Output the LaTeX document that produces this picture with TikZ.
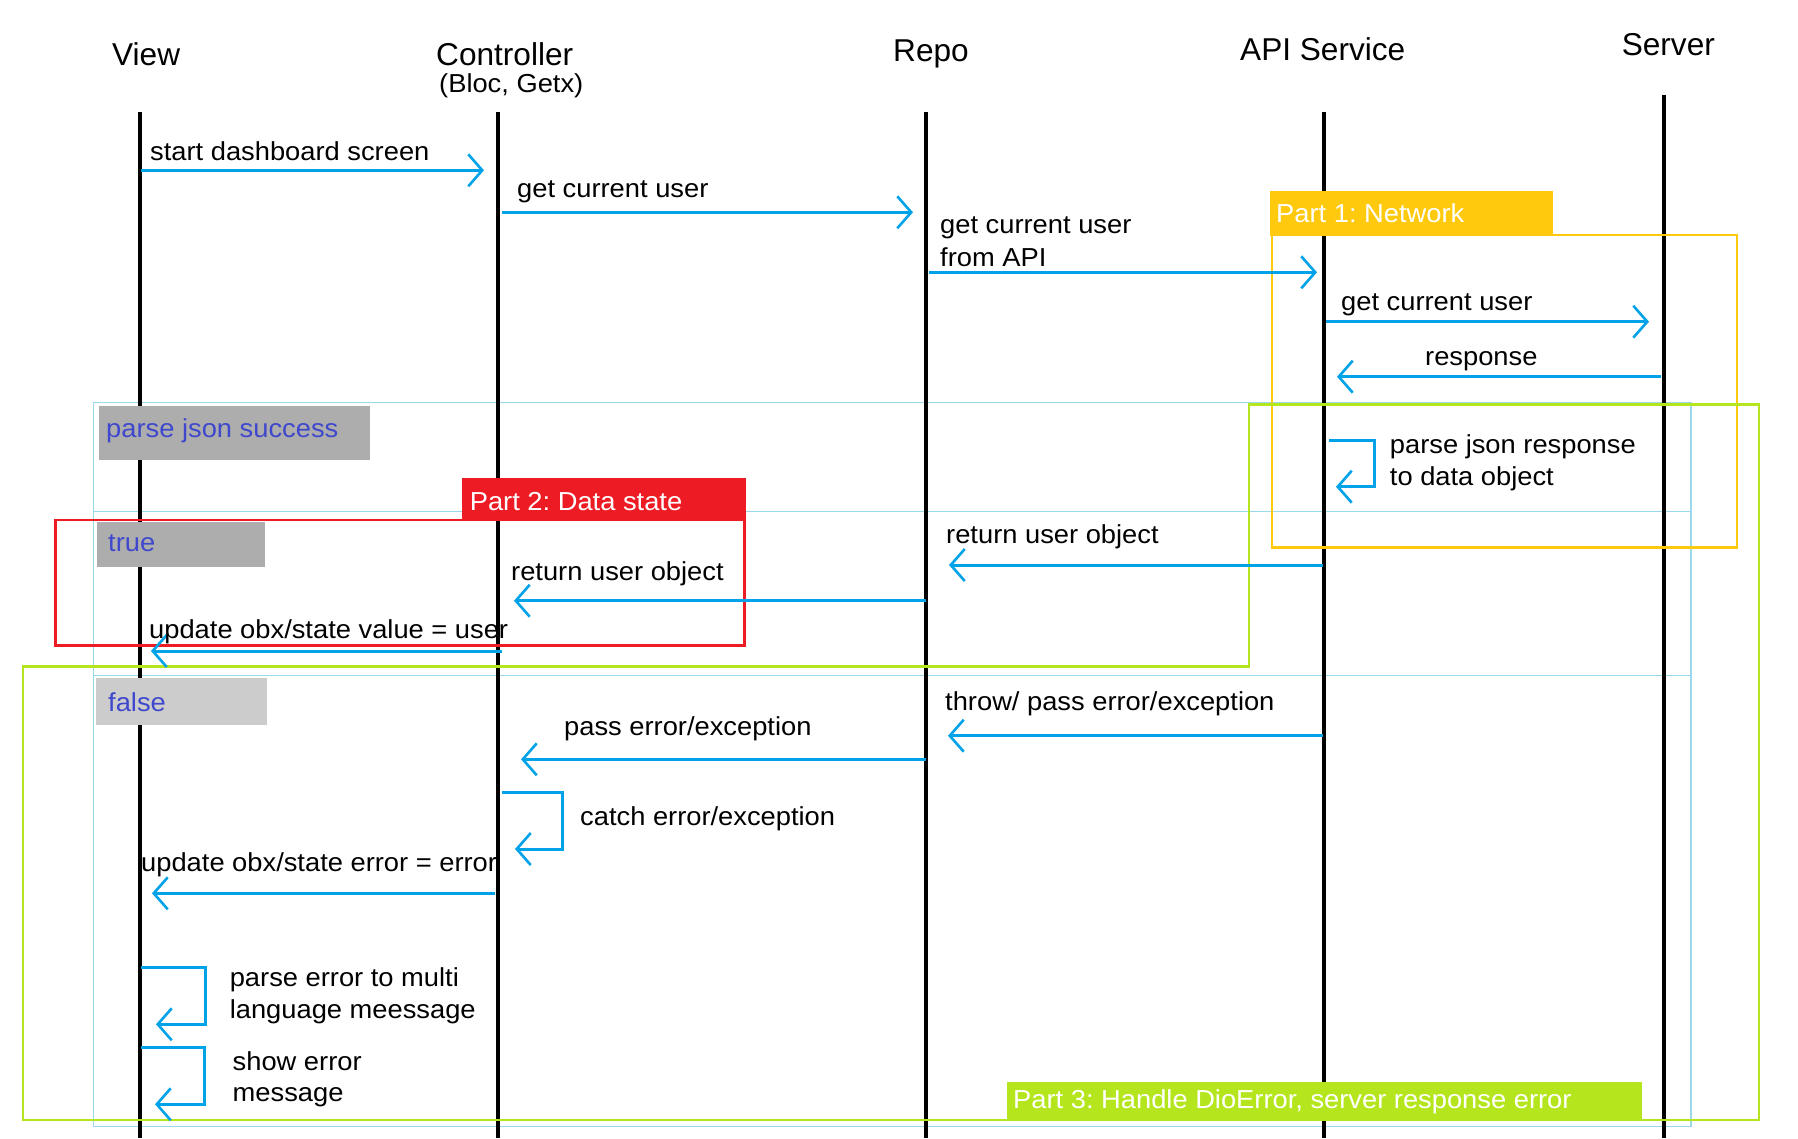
\documentclass[tikz,border=0pt]{standalone}
\usepackage{fontspec}
\setmainfont{Liberation Sans}
\newfontfamily\bodyfont{Liberation Sans}[FakeStretch=1.05]
\usetikzlibrary{arrows.meta}
\frenchspacing
\definecolor{msgblue}{HTML}{00A2E8}
\definecolor{fragblue}{HTML}{99D9EA}
\definecolor{condblue}{HTML}{3F48CC}
\definecolor{netyellow}{HTML}{FFC90E}
\definecolor{datared}{HTML}{ED1C24}
\definecolor{errgreen}{HTML}{B5E61D}
\definecolor{graydark}{HTML}{ADADAD}
\definecolor{graylight}{HTML}{CCCCCC}
\begin{document}
\begin{tikzpicture}[x=1pt,y=-1pt,
  head/.style={anchor=base west,inner sep=0pt,font=\fontsize{31.6}{38}\selectfont},
  txt/.style={anchor=base west,inner sep=0pt,font=\bodyfont\fontsize{26}{32}\selectfont},
  lbl/.style={txt,text=white},
  cond/.style={txt,text=condblue},
  lifeline/.style={line width=4.2pt,black},
  frag/.style={line width=1.2pt,fragblue},
  framebox/.style={line width=2.5pt},
  msg/.style={line width=3pt,msgblue,-{Straight Barb[length=14pt,width=32pt,line width=2.6pt]}}]
\useasboundingbox (0,0) rectangle (1798,1138);
\fill[white] (0,0) rectangle (1798,1138);

% combined fragment (light blue)
\draw[frag] (93.6,402.7) rectangle (1691,1126.7);
\draw[frag] (93.6,511.7) -- (1691,511.7);
\draw[frag] (93.6,675.7) -- (1691,675.7);

% lifelines
\coordinate (vT) at (140,112); \coordinate (vB) at (140,1138);
\coordinate (cT) at (498,112); \coordinate (cB) at (498,1138);
\coordinate (rT) at (926,112); \coordinate (rB) at (926,1138);
\coordinate (aT) at (1324,112); \coordinate (aB) at (1324,1138);
\coordinate (sT) at (1664,95); \coordinate (sB) at (1664,1138);
\draw[lifeline] (vT) -- (vB);
\draw[lifeline] (cT) -- (cB);
\draw[lifeline] (rT) -- (rB);
\draw[lifeline] (aT) -- (aB);
\draw[lifeline] (sT) -- (sB);

% frames
\draw[framebox,netyellow] (1272,235) rectangle (1737,547.3);
\draw[framebox,datared] (55.7,520) rectangle (744.5,645.7);
\draw[framebox,errgreen] (23,666.7) -- (1249,666.7) -- (1249,404.3) -- (1758.8,404.3) -- (1758.8,1120) -- (23,1120) -- cycle;

% labels and condition boxes
\fill[netyellow] (1270,191) rectangle (1553,236);
\fill[datared] (462,478) rectangle (746,521);
\fill[errgreen] (1007,1082) rectangle (1641.7,1120);
\fill[graydark] (98.7,406) rectangle (370,460);
\fill[graydark] (97,521.7) rectangle (265,566.7);
\fill[graylight] (96,678) rectangle (267,725);

% headers
\node[head] (hView) at (112,65) {View};
\node[head] (hCtrl) at (436,65) {Controller};
\node[txt] (hCtrlSub) at (439,92.5) {(Bloc, Getx)};
\node[head] (hRepo) at (893,61.7) {Repo};
\node[head] (hApi) at (1240,60) {API Service};
\node[head] (hSrv) at (1621.6,55) {Server};

% label texts
\node[lbl] (p1) at (1276,222) {Part 1: Network};
\node[lbl] (p2) at (469.6,510) {Part 2: Data state};
\node[lbl] (p3) at (1013,1108) {Part 3: Handle DioError, server response error};
\node[cond] (c1) at (106,437) {parse json success};
\node[cond] (c2) at (108,551.7) {true};
\node[cond] (c3) at (108,711.7) {false};

% messages
\coordinate (m1a) at (141,170.3); \coordinate (m1b) at (484,170.3);
\draw[msg] (m1a) -- (m1b);
\coordinate (m2a) at (502,212.3); \coordinate (m2b) at (913,212.3);
\draw[msg] (m2a) -- (m2b);
\coordinate (m3a) at (929,272.3); \coordinate (m3b) at (1317,272.3);
\draw[msg] (m3a) -- (m3b);
\coordinate (m4a) at (1326,321.7); \coordinate (m4b) at (1649,321.7);
\draw[msg] (m4a) -- (m4b);
\coordinate (m5a) at (1661,376.7); \coordinate (m5b) at (1337,376.7);
\draw[msg] (m5a) -- (m5b);
\coordinate (m6a) at (1329,440.7); \coordinate (m6b) at (1336,486.7);
\draw[msg] (m6a) -- (1374.7,440.7) |- (m6b);
\coordinate (m7a) at (1323,565); \coordinate (m7b) at (949,565);
\draw[msg] (m7a) -- (m7b);
\coordinate (m8a) at (926,600.7); \coordinate (m8b) at (514,600.7);
\draw[msg] (m8a) -- (m8b);
\coordinate (m9a) at (502,651); \coordinate (m9b) at (151,651);
\draw[msg] (m9a) -- (m9b);
\coordinate (m10a) at (1323,735.7); \coordinate (m10b) at (948,735.7);
\draw[msg] (m10a) -- (m10b);
\coordinate (m11a) at (926,759.3); \coordinate (m11b) at (521,759.3);
\draw[msg] (m11a) -- (m11b);
\coordinate (m12a) at (502,792.3); \coordinate (m12b) at (515,849);
\draw[msg] (m12a) -- (562.6,792.3) |- (m12b);
\coordinate (m13a) at (495,893.3); \coordinate (m13b) at (152,893.3);
\draw[msg] (m13a) -- (m13b);
\coordinate (m14a) at (141,967.7); \coordinate (m14b) at (156,1024.3);
\draw[msg] (m14a) -- (205,967.7) |- (m14b);
\coordinate (m15a) at (141,1047.3); \coordinate (m15b) at (155,1104.3);
\draw[msg] (m15a) -- (204,1047.3) |- (m15b);

% message texts
\node[txt] (t1) at (150,160) {start dashboard screen};
\node[txt] (t2) at (517,197) {get current user};
\node[txt] (t3a) at (940,233) {get current user};
\node[txt] (t3b) at (940,266.7) {from API};
\node[txt] (t4) at (1341,310) {get current user};
\node[txt] (t5) at (1425,365) {response};
\node[txt] (t6a) at (1389.7,453) {parse json response};
\node[txt] (t6b) at (1389.7,485) {to data object};
\node[txt] (t7) at (946,543) {return user object};
\node[txt] (t8) at (511,580) {return user object};
\node[txt] (t9) at (149,638) {update obx/state value = user};
\node[txt] (t10) at (945,710) {throw/ pass error/exception};
\node[txt] (t11) at (564,735) {pass error/exception};
\node[txt] (t12) at (580,825) {catch error/exception};
\node[txt] (t13) at (141,871.7) {update obx/state error = error};
\node[txt] (t14a) at (229.6,986.7) {parse error to multi};
\node[txt] (t14b) at (229.6,1018) {language meessage};
\node[txt] (t15a) at (232.5,1070) {show error};
\node[txt] (t15b) at (232.5,1101.7) {message};
\end{tikzpicture}
\end{document}
